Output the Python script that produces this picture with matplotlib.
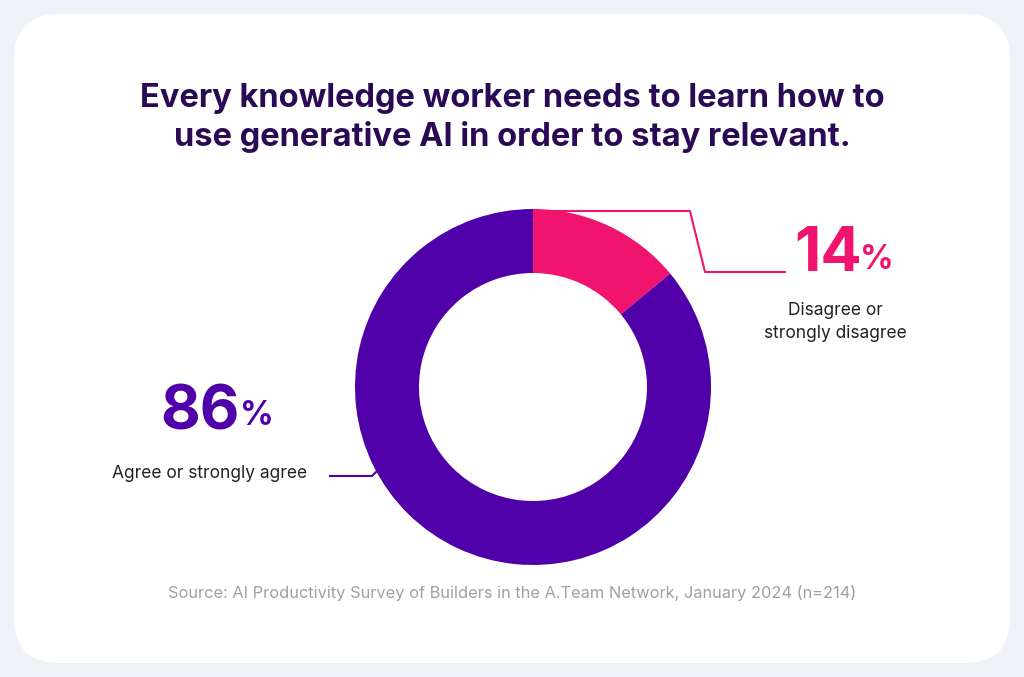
import matplotlib.pyplot as plt
from matplotlib.patches import FancyBboxPatch

labels = ['Disagree or\nstrongly disagree', 'Agree or strongly agree']
values = [14, 86]
colors = ['#f0146e', '#5000a8']

W, H = 1024, 677
fig = plt.figure(figsize=(W / 100, H / 100), dpi=100)
fig.patch.set_facecolor('#eef1f5')

bg = fig.add_axes([0, 0, 1, 1])
bg.set_xlim(0, W)
bg.set_ylim(H, 0)
bg.axis('off')
bg.add_patch(FancyBboxPatch((14, 14), W - 28, H - 28, boxstyle='round,pad=0,rounding_size=45',
                            facecolor='white', edgecolor='none'))

title_col = '#2b0a55'
bg.text(512, 118, 'Every knowledge worker needs to learn how to\nuse generative AI in order to stay relevant.',
        ha='center', va='center', fontsize=23.5, fontweight='bold', color=title_col,
        family='Inter', linespacing=1.3)

# leader lines
bg.plot([533, 690, 705, 785], [211, 211, 272, 272], color=colors[0], lw=1.5)
bg.plot([330, 372, 396], [476, 476, 452], color=colors[1], lw=1.5)

bg.text(794, 255, str(values[0]), ha='left', va='center', fontsize=44, fontweight='bold', color=colors[0], family='Inter')
bg.text(860, 260, '%', ha='left', va='center', fontsize=24, fontweight='bold', color=colors[0], family='Inter')
bg.text(835, 322, labels[0], ha='center', va='center', fontsize=12.5, color='#222222', family='Inter', linespacing=1.5)

bg.text(160, 413, str(values[1]), ha='left', va='center', fontsize=44, fontweight='bold', color=colors[1], family='Inter')
bg.text(240, 416, '%', ha='left', va='center', fontsize=24, fontweight='bold', color=colors[1], family='Inter')
bg.text(112, 474, labels[1], ha='left', va='center', fontsize=12.5, color='#222222', family='Inter')

bg.text(512, 593, 'Source: AI Productivity Survey of Builders in the A.Team Network, January 2024 (n=214)',
        ha='center', va='center', fontsize=11.8, color='#a0a0a0', family='Inter')

cx, cy, r = 533, 387, 178
ax = fig.add_axes([(cx - r) / W, 1 - (cy + r) / H, 2 * r / W, 2 * r / H])
ax.pie(values, colors=colors, startangle=90, counterclock=False,
       wedgeprops=dict(width=64 / 178, edgecolor='none'), radius=1)
ax.set_xlim(-1, 1)
ax.set_ylim(-1, 1)
ax.set_aspect('auto')
ax.axis('off')

fig.savefig('out.png', dpi=100, facecolor=fig.get_facecolor())
